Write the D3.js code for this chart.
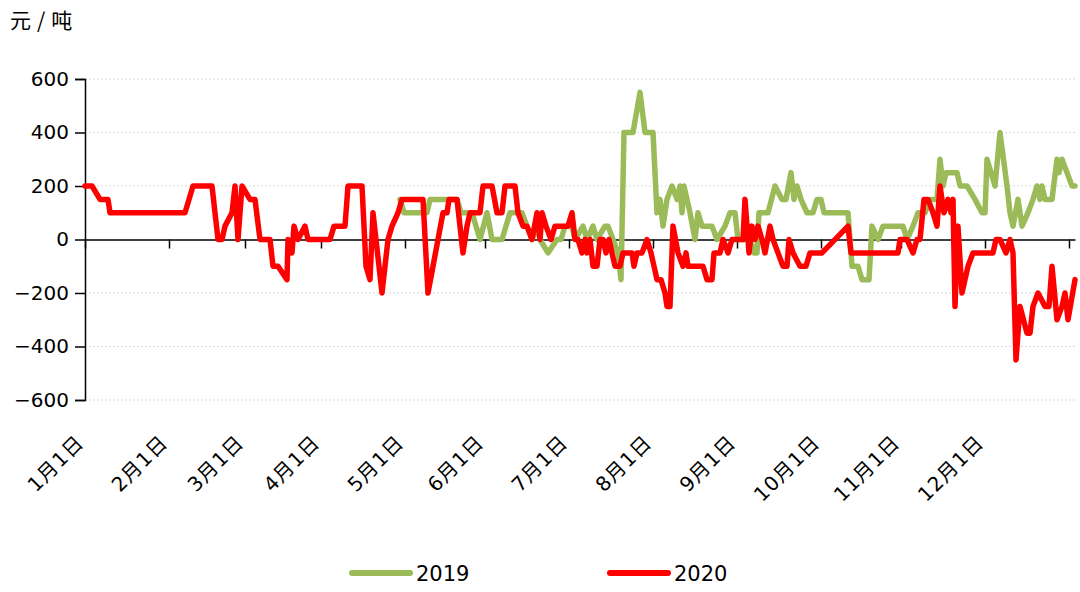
<!DOCTYPE html>
<html><head><meta charset="utf-8">
<script src="https://cdn.jsdelivr.net/npm/d3@7"></script>
<style>html,body{margin:0;padding:0;background:#fff;}svg{display:block;}</style>
</head><body>
<svg id="chart" width="1080" height="592"></svg>
<script>
// ---- data (x = trading-day index, y = 元/吨) ----
const yTicks = [-600, -400, -200, 0, 200, 400, 600];
const monthTickIdx = [0, 21, 40, 59, 80, 100, 121, 142, 163, 184, 204, 225, 246];
const monthLabels = ["1月1日","2月1日","3月1日","4月1日","5月1日","6月1日","7月1日","8月1日","9月1日","10月1日","11月1日","12月1日",""];
const seriesNames = ["2019", "2020"];

const s2020Idx = [0,1.75,3.75,5.75,6.25,25,27,31.75,33.25,34.25,35,36.75,37.5,38.25,39.25,41.25,42.5,43.75,46.25,47,48.25,50.5,50.75,51.75,52.25,53.25,55,55.75,61.25,62.25,65,65.75,69.25,70.25,71.25,72,74.25,75.75,76.75,78.25,79.25,84.5,85.75,87,89.5,90.5,91,93,94.5,95.5,96.25,98.75,99.5,101.75,103,104.25,105,107.5,108.25,109.5,110.5,111.75,113,113.75,114.25,115.25,116.5,117.5,120.75,121.75,122.5,123.25,124.25,125,125.5,126.25,127,128,128.75,129.5,130.25,131,131.75,132.5,133.75,134.5,136.75,137.25,138,139.25,140.5,141.5,142.25,143,144,145,145.5,146.25,147,148.25,149.5,150.25,150.75,154.5,155.5,156.75,157.25,158.75,159.5,160.75,161.75,164.5,165,166,166.75,167.5,168.25,169.25,170,171.25,172,173.25,174.5,175.5,176,177,178.75,180.25,181.25,184.25,190.75,191.5,203.25,203.75,205.5,207,208,208.75,209.75,210.75,212,213,213.75,214.75,215.75,216.5,217,217.5,218.25,219.25,220.75,222,227,227.75,228.75,230.25,231.25,232,232.75,233.75,235.5,236.25,237,238.25,240,241,241.75,243,244.25,245,245.75,247.5];
const s2020Val = [200,200,150,150,100,100,200,200,0,0,50,100,200,0,200,150,150,0,0,-100,-100,-150,0,-50,50,0,50,0,0,50,50,200,200,-100,-150,100,-200,0,50,100,150,150,-200,-100,100,100,150,150,-50,50,100,100,200,200,100,100,200,200,100,50,50,0,100,0,100,50,0,50,50,100,0,0,-50,0,-50,0,-100,-100,0,0,-50,0,-50,-100,-100,-50,-50,-100,-50,-50,0,-50,-100,-150,-150,-200,-250,-250,50,-50,-100,-50,-100,-100,-150,-150,-50,-50,0,-50,0,0,150,-50,50,0,50,0,-50,50,0,-50,-100,-100,0,-50,-100,-100,-50,-50,50,-50,-50,0,0,-50,0,0,150,150,100,50,200,100,150,100,150,-250,50,-200,-100,-50,-50,0,0,-50,0,-50,-450,-250,-350,-350,-250,-200,-250,-250,-100,-300,-250,-200,-300,-150];

const s2019Idx = [78.75,79.75,85.5,86.25,93,94,96.75,98.75,100.5,101.75,104.25,106.25,109.25,110.5,111.75,113,113.75,115.75,118,119,120,121.75,122.5,124.5,125.5,127,128,130,130.75,132,133.25,134,134.75,137,138.75,140,142,143,143.75,144.5,145.5,146.75,148,148.75,149.25,149.75,151.25,152.5,153.25,154.25,156.75,158,160,161.25,162.5,163.25,166.25,167.25,168,168.5,170.75,172.5,174.25,175.25,176.5,177.25,178,179,180.5,182,183,184,184.75,190.75,191.75,193.25,194.25,196,196.75,198.25,199.5,204.5,205.5,207,208.25,210,211.25,213,213.75,214.5,215.25,218,218.75,220.5,222.5,224.25,225,225.5,227.5,228.75,230.5,231.25,232,233.25,234.25,235.75,237,238,238.75,239.25,240,241.75,243,243.5,244.25,245.5,246.75,247.5];
const s2019Val = [150,100,100,150,150,100,100,0,100,0,0,100,100,50,0,50,0,-50,0,0,50,50,0,50,0,50,0,50,50,0,-50,-150,400,400,550,400,400,100,150,50,150,200,150,200,100,200,100,0,100,50,50,0,50,100,100,0,0,-50,-50,100,100,200,150,150,250,150,200,150,100,100,150,150,100,100,-100,-100,-150,-150,50,0,50,50,0,50,100,100,150,150,300,200,250,250,200,200,150,100,100,300,200,400,200,100,50,150,50,100,150,200,150,200,150,150,300,250,300,250,200,200];

// ---- layout ----
const svg = d3.select("#chart");
const x = d3.scaleLinear().domain([0, 247.5]).range([85, 1075]);
const y = d3.scaleLinear().domain([-600, 600]).range([400, 79]);
const color = d3.scaleOrdinal().domain(seriesNames).range(["#9BBB59", "#FF0000"]);
const numFont = "'DejaVu Sans', 'Noto Sans CJK SC', sans-serif";

// gridlines
svg.append("g").selectAll("line").data(yTicks.filter(d => d !== 0)).join("line")
  .attr("x1", x(0)).attr("x2", x(247.5))
  .attr("y1", d => y(d)).attr("y2", d => y(d))
  .attr("stroke", "#d9d9d9").attr("stroke-width", 1).attr("stroke-dasharray", "2,2");

// y axis
const yAxis = svg.append("g").attr("transform", `translate(${x(0)},0)`)
  .call(d3.axisLeft(y).tickValues(yTicks).tickSize(10).tickPadding(6).tickFormat(d3.format("d")));
yAxis.select(".domain").attr("stroke", "#000").attr("stroke-width", 1.5);
yAxis.selectAll(".tick line").attr("stroke", "#000").attr("stroke-width", 1.5);
yAxis.selectAll(".tick text").attr("font-family", numFont).attr("font-size", 20).attr("fill", "#000")
  .text(d => d < 0 ? "\u2212" + Math.abs(d) : d);

// x axis at zero
const xAxis = svg.append("g").attr("transform", `translate(0,${y(0)})`)
  .call(d3.axisBottom(x).tickValues(monthTickIdx).tickSize(9).tickSizeOuter(0).tickFormat(""));
xAxis.select(".domain").attr("stroke", "#000").attr("stroke-width", 1.5);
xAxis.selectAll(".tick line").attr("stroke", "#000").attr("stroke-width", 1.5);

// month labels at bottom
svg.append("g").selectAll("text").data(monthTickIdx).join("text")
  .attr("transform", d => `translate(${x(d)},444) rotate(-45)`)
  .attr("text-anchor", "end")
  .attr("font-family", numFont).attr("font-size", 20).attr("letter-spacing", 1).attr("fill", "#000")
  .text((d, i) => monthLabels[i]);

// lines
const line = d3.line().x(d => x(d[0])).y(d => y(d[1]));
const s2019 = s2019Idx.map((d, i) => [d, s2019Val[i]]);
const s2020 = s2020Idx.map((d, i) => [d, s2020Val[i]]);
[[s2019, "2019"], [s2020, "2020"]].forEach(([pts, name]) => {
  svg.append("path").datum(pts).attr("d", line)
    .attr("fill", "none").attr("stroke", color(name)).attr("stroke-width", 5.5)
    .attr("stroke-linejoin", "round").attr("stroke-linecap", "round");
});

// unit label
svg.append("text").attr("x", 10).attr("y", 28)
  .attr("font-family", "'Noto Sans CJK SC', sans-serif").attr("font-size", 21)
  .attr("letter-spacing", 6).attr("fill", "#000").text("元/吨");

// legend
const legend = svg.append("g").selectAll("g").data(seriesNames).join("g")
  .attr("transform", (d, i) => `translate(${352 + i * 258},573)`);
legend.append("line").attr("x1", 0).attr("x2", 58).attr("y1", 0).attr("y2", 0)
  .attr("stroke", d => color(d)).attr("stroke-width", 6).attr("stroke-linecap", "round");
legend.append("text").attr("x", 64).attr("y", 8)
  .attr("font-family", "'DejaVu Sans', sans-serif").attr("font-size", 21)
  .attr("fill", "#000").text(d => d);
</script>
</body></html>
